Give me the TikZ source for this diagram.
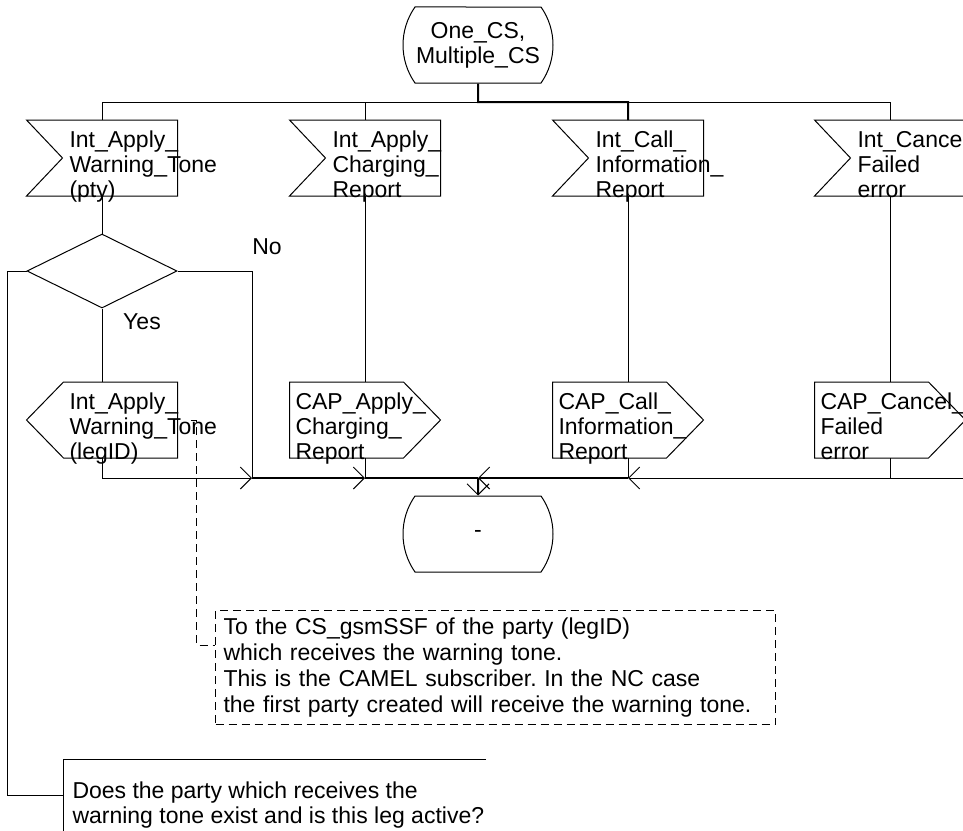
\documentclass[tikz,border=0pt]{standalone}
\usepackage{fontspec}
\setmainfont{Liberation Sans}
\usetikzlibrary{shapes.geometric, shapes.misc, arrows.meta, positioning, calc}
\frenchspacing

\begin{document}
\begin{tikzpicture}[x=1pt, y=-1pt, line width=1pt,
    font=\fontsize{23}{25}\selectfont,
    state/.style={draw, rounded rectangle, rounded rectangle arc length=70,
                  minimum width=150pt, minimum height=76pt, inner sep=0pt, align=center},
    sigbox/.style={rectangle, minimum width=150pt, minimum height=75pt, inner sep=0pt},
    decision/.style={draw, diamond, minimum width=150pt, minimum height=74pt, inner sep=0pt},
    sigtext/.style={anchor=north west, inner sep=0pt, align=left},
    flow/.style={-{Straight Barb[length=11pt, width=22pt, line width=1pt]}},
    note/.style={anchor=north west, inner xsep=8pt, inner ysep=7.5pt, align=left,
                 text width=544pt, font=\fontsize{23}{26}\selectfont}
]
    \useasboundingbox (0,0) rectangle (963,830);

    \node[state] (onecs) at (478,45) {One\_CS,\\Multiple\_CS};
    \coordinate (topbus) at (478,102);

    \node[sigbox] (in1) at (102,158) {};
    \node[sigbox] (in2) at (365,158) {};
    \node[sigbox] (in3) at (628,158) {};
    \node[sigbox] (in4) at (890,158) {};
    \foreach \s in {in1,in2,in3,in4}
        \draw (\s.north west) -- (\s.north east) -- (\s.south east)
              -- (\s.south west) -- ([xshift=36pt]\s.west) -- cycle;
    \node[sigtext] (in1t) at (69,130) {Int\_Apply\_\\Warning\_Tone\\(pty)};
    \node[sigtext] (in2t) at (332,130) {Int\_Apply\_\\Charging\_\\Report};
    \node[sigtext] (in3t) at (595,130) {Int\_Call\_\\Information\_\\Report};
    \node[sigtext] (in4t) at (857,130) {Int\_Cancel\_\\Failed\\error};

    \node[decision] (check) at (102,271) {};
    \node (yes) at (142,322) {Yes};
    \node (no) at (267,247) {No};

    \node[sigbox] (out1) at (102,420) {};
    \node[sigbox] (out2) at (365,420) {};
    \node[sigbox] (out3) at (628,420) {};
    \node[sigbox] (out4) at (890,420) {};
    \draw ([xshift=37pt]out1.north west) -- (out1.north east) -- (out1.south east)
          -- ([xshift=37pt]out1.south west) -- (out1.west) -- cycle;
    \foreach \s in {out2,out3,out4}
        \draw (\s.north west) -- ([xshift=-37pt]\s.north east) -- (\s.east)
              -- ([xshift=-37pt]\s.south east) -- (\s.south west) -- cycle;
    \node[sigtext] (out1t) at (69,392) {Int\_Apply\_\\Warning\_Tone\\(legID)};
    \node[sigtext] (out2t) at (295,392) {CAP\_Apply\_\\Charging\_\\Report};
    \node[sigtext] (out3t) at (558,392) {CAP\_Call\_\\Information\_\\Report};
    \node[sigtext] (out4t) at (820,392) {CAP\_Cancel\_\\Failed\\error};

    \coordinate (j1) at (252,478);
    \coordinate (j2) at (365,478);
    \coordinate (jmid) at (478,478);
    \coordinate (j3) at (628,478);
    \coordinate (j4) at (890,478);
    \coordinate (jright) at (963,478);
    \node[state] (idle) at (478,534) {-};

    \node[note, draw, dash pattern=on 8pt off 5pt] (legnote) at (215,610)
        {To the CS\_gsmSSF of the party (legID)\\which receives the warning tone.\\
         This is the CAMEL subscriber. In the NC case\\
         the first party created will receive the warning tone.};
    \node[anchor=north west, inner xsep=9pt, inner ysep=22pt, align=left] (asknote) at (63,759)
        {Does the party which receives the\\warning tone exist and is this leg active?};

    \draw[line width=2pt] (onecs) -- (topbus) -| (in3);
    \draw (topbus) -| (in1);
    \draw (topbus) -| (in2);
    \draw (topbus) -| (in4);
    \draw (in1) -- (check);
    \draw (check) -- (out1);
    \draw (in2) -- (out2);
    \draw (in3) -- (out3);
    \draw (in4) -- (out4);

    \draw[flow] (out1) |- (j1);
    \draw (check) -| (j1);
    \draw[flow, line width=2pt] (j1) -- (j2);
    \draw (out2) -- (j2);
    \draw[line width=2pt] (j2) -- (jmid);
    \draw[flow, line width=2pt] (j3) -- (jmid);
    \draw (out3) -- (j3);
    \draw[flow] (j4) -- (j3);
    \draw (out4) -- (j4);
    \draw (jright) -- (j4);
    \draw[flow, line width=2pt] (jmid) -- (idle);

    \draw[dash pattern=on 8pt off 5pt] ([xshift=13pt]out1.east) -- ++(6,0)
        |- ($(legnote.north west)+(0,35)$);
    \draw ($(asknote.north west)+(423,0)$) -- (asknote.north west) -- ++(0,80);
    \draw (check.west) -- ++(-19,0) |- ($(asknote.north west)+(0,36)$);
\end{tikzpicture}
\end{document}
